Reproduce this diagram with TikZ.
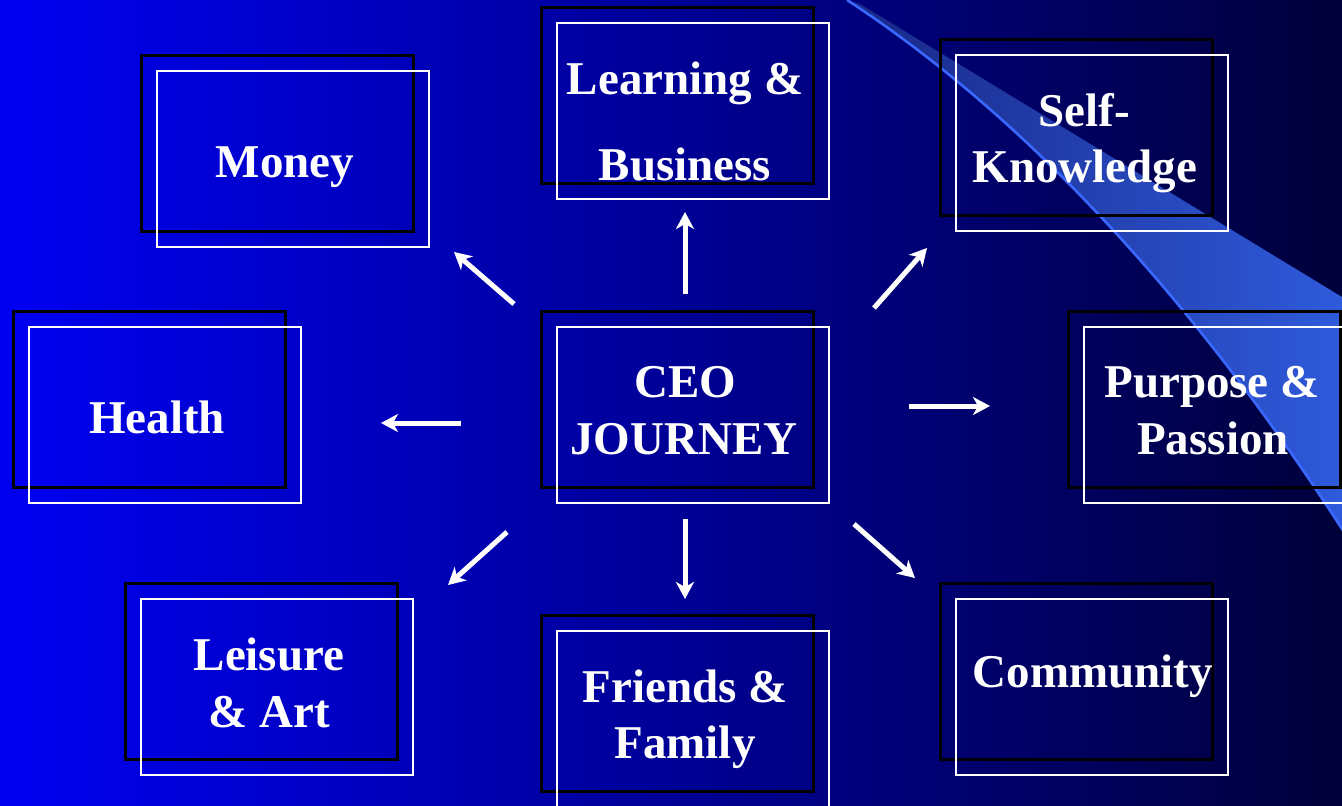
\documentclass[tikz,border=0pt]{standalone}
\usepackage{fontspec}
\setmainfont{Liberation Serif}
\usetikzlibrary{arrows.meta}
\definecolor{bgleft}{RGB}{0,0,242}
\definecolor{bgright}{RGB}{0,0,58}
\definecolor{swline}{RGB}{58,104,255}
\definecolor{bandA}{RGB}{24,40,135}
\definecolor{bandB}{RGB}{48,92,222}
\tikzset{
  blackbox/.style={draw=black, line width=3pt},
  whitebox/.style={draw=white, line width=2.8pt},
  lbl/.style={text=white, font=\bfseries\fontsize{47}{56}\selectfont, anchor=base, inner sep=0pt},
  arr/.style={draw=white, line width=5pt, -{Stealth[length=17pt,width=18pt,inset=5pt]}}
}
\begin{document}
\begin{tikzpicture}[x=1pt,y=-1pt]
\useasboundingbox (0,0) rectangle (1342,806);
\begin{scope}
\clip (0,0) rectangle (1342,806);
\shade[left color=bgleft, right color=bgright] (0,0) rectangle (1342,806);
% swoosh band
\shade[left color=bandA, right color=bandB]
  (847,0) -- (860,4) -- (1342,297) -- (1360,300) -- (1360,560)
  .. controls (1280,430) and (1100,165) .. (847,0) -- cycle;
\draw[swline, line width=2.6pt] (847,0) .. controls (1100,165) and (1280,430) .. (1362,560);
% boxes
\foreach \x/\y in {141/55, 541/7, 940/39, 13/311, 541/311, 1068/311, 125/583, 541/615, 940/583}{
  \draw[blackbox] (\x,\y) rectangle ++(272,176);
  \draw[whitebox] (\x+16,\y+16) rectangle ++(272,176);
}
\end{scope}
% labels
\node[lbl] (money) at (285,177) {Money};
\node[lbl] (learn1) at (685,94) {Learning \&};
\node[lbl] (learn2) at (685,180) {Business};
\node[lbl] (self1) at (1084,126) {Self-};
\node[lbl] (self2) at (1085,182) {Knowledge};
\node[lbl] (health) at (157,433) {Health};
\node[lbl] (ceo1) at (685,397) {CEO};
\node[lbl] (ceo2) at (684,454) {JOURNEY};
\node[lbl] (purp1) at (1212,397) {Purpose \&};
\node[lbl] (purp2) at (1213,454) {Passion};
\node[lbl] (leis1) at (269,670) {Leisure};
\node[lbl] (leis2) at (269,727) {\& Art};
\node[lbl] (fri1) at (685,702) {Friends \&};
\node[lbl] (fri2) at (685,758) {Family};
\node[lbl] (comm) at (1093,687) {Community};
% arrow ends
\coordinate (uS) at (685,294); \coordinate (uE) at (685,212);
\coordinate (ulS) at (514,304); \coordinate (ulE) at (454,252);
\coordinate (urS) at (874,308); \coordinate (urE) at (927,248);
\coordinate (lS) at (461,423); \coordinate (lE) at (381,423);
\coordinate (rS) at (909,406); \coordinate (rE) at (990,406);
\coordinate (dlS) at (507,532); \coordinate (dlE) at (448,585);
\coordinate (dS) at (685,519); \coordinate (dE) at (685,599);
\coordinate (drS) at (854,524); \coordinate (drE) at (915,578);
\foreach \a in {u,ul,ur,l,r,dl,d,dr}{
  \draw[arr] (\a S) -- (\a E);
}
\end{tikzpicture}
\end{document}
